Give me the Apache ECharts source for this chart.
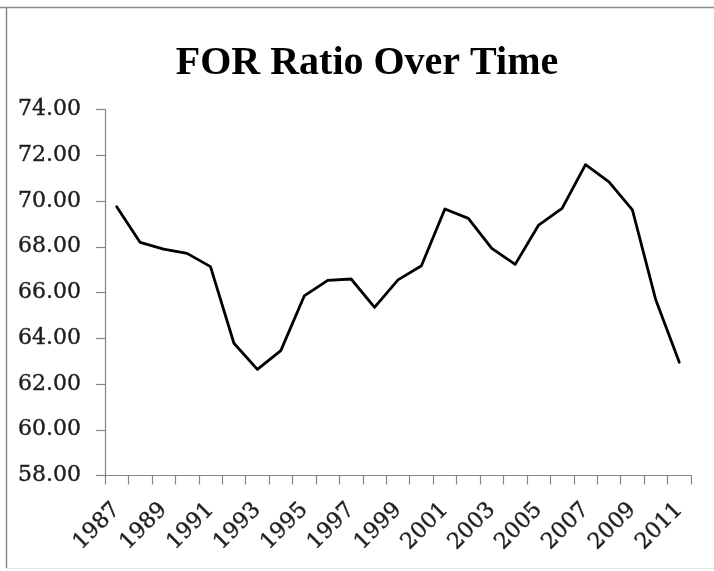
<!DOCTYPE html>
<html>
<head>
<meta charset="utf-8">
<script src="https://cdn.jsdelivr.net/npm/echarts@6/dist/echarts.min.js"></script>
<style>
  html, body { margin: 0; padding: 0; background: #fff; }
  #chart { width: 714px; height: 571px; }
</style>
</head>
<body>
<div id="chart"></div>
<script>
// Year categories and the FOR ratio for each year
const years = ['1987','1988','1989','1990','1991','1992','1993','1994','1995','1996',
               '1997','1998','1999','2000','2001','2002','2003','2004','2005','2006',
               '2007','2008','2009','2010','2011'];
const forRatio = [69.75, 68.19, 67.90, 67.71, 67.13, 63.78, 62.64, 63.46, 65.85, 66.53,
                  66.59, 65.35, 66.55, 67.17, 69.65, 69.24, 67.93, 67.23, 68.95, 69.68,
                  71.59, 70.84, 69.61, 65.67, 62.95];
const yMin = 58, yMax = 74, yStep = 2;

const axisGray = '#868686';
const labelFont = 'DejaVu Serif';
const labelColor = '#1e1e1e';

const chart = echarts.init(document.getElementById('chart'), null, { renderer: 'canvas' });
chart.setOption({
  backgroundColor: '#fff',
  animation: false,
  title: {
    text: 'FOR Ratio Over Time',
    left: 362,
    top: 39,
    textAlign: 'center',
    textStyle: {
      fontFamily: 'Liberation Serif',
      fontWeight: 'bold',
      fontSize: 40,
      color: '#000'
    }
  },
  graphic: [
    // chart frame
    { type: 'line', shape: { x1: 0, y1: 7.5, x2: 714, y2: 7.5 }, style: { stroke: '#8c8c8c', lineWidth: 1.5 } },
    { type: 'line', shape: { x1: 6.5, y1: 7, x2: 6.5, y2: 568 }, style: { stroke: '#8c8c8c', lineWidth: 1.5 } },
    { type: 'line', shape: { x1: 6, y1: 568.5, x2: 714, y2: 568.5 }, style: { stroke: '#e4e4e4', lineWidth: 1 } }
  ],
  grid: { left: 105, right: 23, top: 109.5, bottom: 95.5 },
  xAxis: {
    type: 'category',
    data: years,
    boundaryGap: true,
    axisLine: { lineStyle: { color: axisGray, width: 1.2 } },
    axisTick: { show: true, interval: 0, length: 9, lineStyle: { color: axisGray, width: 1.2 } },
    axisLabel: {
      interval: 1,
      rotate: 45,
      margin: 31,
      fontFamily: labelFont,
      fontSize: 22,
      color: labelColor,
      textBorderColor: labelColor,
      textBorderWidth: 0.4
    },
    splitLine: { show: false }
  },
  yAxis: {
    type: 'value',
    min: yMin,
    max: yMax,
    interval: yStep,
    axisLine: { show: true, lineStyle: { color: axisGray, width: 1.2 } },
    axisTick: { show: true, length: 9, inside: false, lineStyle: { color: axisGray, width: 1.2 } },
    axisLabel: {
      margin: 24,
      fontFamily: labelFont,
      fontSize: 22,
      color: labelColor,
      textBorderColor: labelColor,
      textBorderWidth: 0.4,
      formatter: v => v.toFixed(2)
    },
    splitLine: { show: false }
  },
  series: [{
    type: 'line',
    data: forRatio,
    symbol: 'none',
    smooth: false,
    lineStyle: { color: '#000', width: 2.8, join: 'round', cap: 'round' }
  }]
});
</script>
</body>
</html>
